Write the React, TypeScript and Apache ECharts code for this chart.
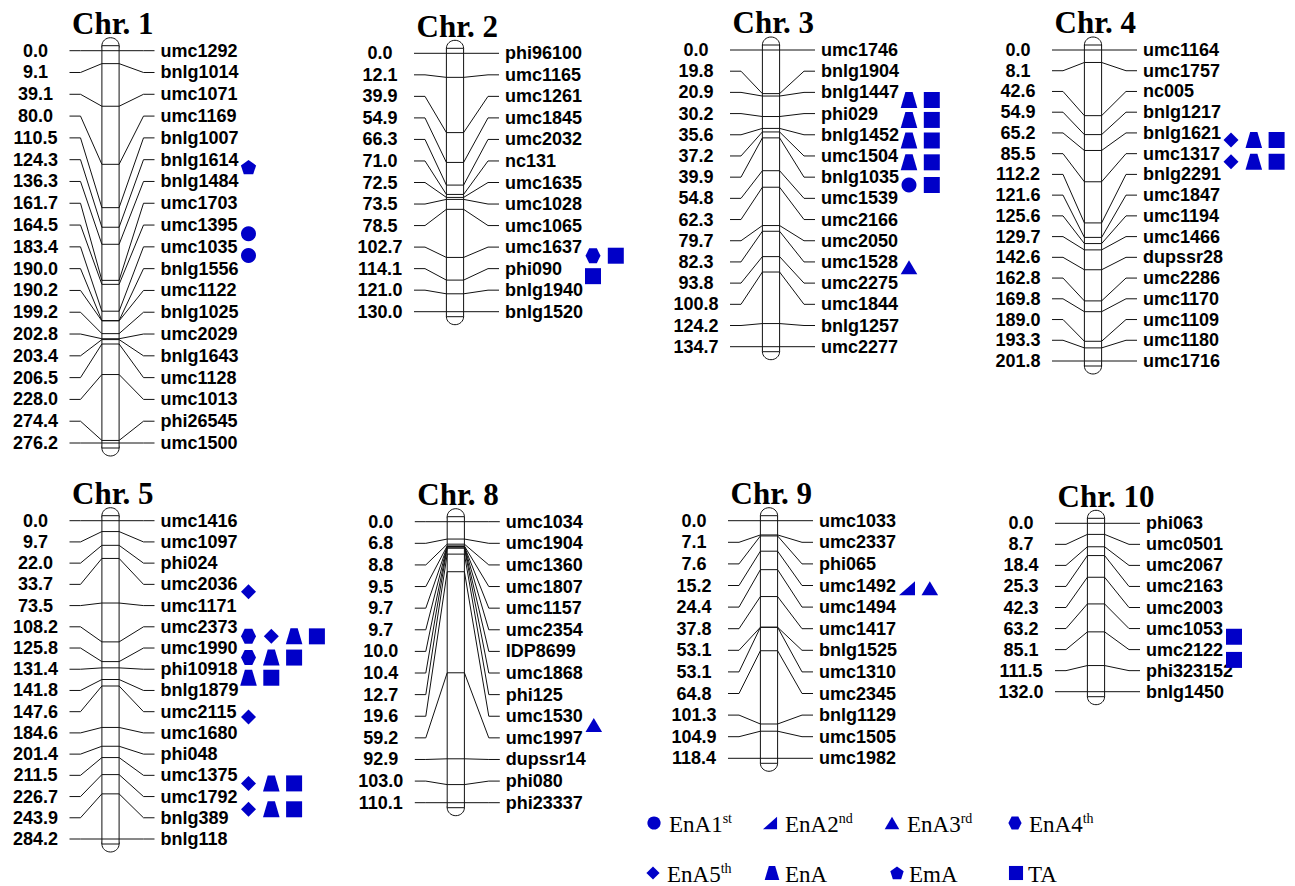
import React, { useEffect, useRef } from "react";
import * as echarts from "echarts";

// ---------------- data ----------------
const chr1Markers = ["umc1292", "bnlg1014", "umc1071", "umc1169", "bnlg1007", "bnlg1614", "bnlg1484", "umc1703", "umc1395", "umc1035", "bnlg1556", "umc1122", "bnlg1025", "umc2029", "bnlg1643", "umc1128", "umc1013", "phi26545", "umc1500"];
const chr1Positions = [0.0, 9.1, 39.1, 80.0, 110.5, 124.3, 136.3, 161.7, 164.5, 183.4, 190.0, 190.2, 199.2, 202.8, 203.4, 206.5, 228.0, 274.4, 276.2];
const chr1QtlRows = [5.35, 8.4, 9.4];
const chr1QtlTraits = [["EmA"], ["EnA1st"], ["EnA1st"]];

const chr2Markers = ["phi96100", "umc1165", "umc1261", "umc1845", "umc2032", "nc131", "umc1635", "umc1028", "umc1065", "umc1637", "phi090", "bnlg1940", "bnlg1520"];
const chr2Positions = [0.0, 12.1, 39.9, 54.9, 66.3, 71.0, 72.5, 73.5, 78.5, 102.7, 114.1, 121.0, 130.0];
const chr2QtlRows = [9.4, 10.35];
const chr2QtlTraits = [["EnA4th", "TA"], ["TA"]];

const chr3Markers = ["umc1746", "bnlg1904", "bnlg1447", "phi029", "bnlg1452", "umc1504", "bnlg1035", "umc1539", "umc2166", "umc2050", "umc1528", "umc2275", "umc1844", "bnlg1257", "umc2277"];
const chr3Positions = [0.0, 19.8, 20.9, 30.2, 35.6, 37.2, 39.9, 54.8, 62.3, 79.7, 82.3, 93.8, 100.8, 124.2, 134.7];
const chr3QtlRows = [2.36, 3.3, 4.27, 5.3, 6.37, 10.25];
const chr3QtlTraits = [["EnA", "TA"], ["EnA", "TA"], ["EnA", "TA"], ["EnA", "TA"], ["EnA1st", "TA"], ["EnA3rd"]];

const chr4Markers = ["umc1164", "umc1757", "nc005", "bnlg1217", "bnlg1621", "umc1317", "bnlg2291", "umc1847", "umc1194", "umc1466", "dupssr28", "umc2286", "umc1170", "umc1109", "umc1180", "umc1716"];
const chr4Positions = [0.0, 8.1, 42.6, 54.9, 65.2, 85.5, 112.2, 121.6, 125.6, 129.7, 142.6, 162.8, 169.8, 189.0, 193.3, 201.8];
const chr4QtlRows = [4.34, 5.39];
const chr4QtlTraits = [["EnA5th", "EnA", "TA"], ["EnA5th", "EnA", "TA"]];

const chr5Markers = ["umc1416", "umc1097", "phi024", "umc2036", "umc1171", "umc2373", "umc1990", "phi10918", "bnlg1879", "umc2115", "umc1680", "phi048", "umc1375", "umc1792", "bnlg389", "bnlg118"];
const chr5Positions = [0.0, 9.7, 22.0, 33.7, 73.5, 108.2, 125.8, 131.4, 141.8, 147.6, 184.6, 201.4, 211.5, 226.7, 243.9, 284.2];
const chr5QtlRows = [3.35, 5.45, 6.45, 7.4, 9.25, 12.38, 13.6];
const chr5QtlTraits = [["EnA5th"], ["EnA4th", "EnA5th", "EnA", "TA"], ["EnA4th", "EnA", "TA"], ["EnA", "TA"], ["EnA5th"], ["EnA5th", "EnA", "TA"], ["EnA5th", "EnA", "TA"]];

const chr8Markers = ["umc1034", "umc1904", "umc1360", "umc1807", "umc1157", "umc2354", "IDP8699", "umc1868", "phi125", "umc1530", "umc1997", "dupssr14", "phi080", "phi23337"];
const chr8Positions = [0.0, 6.8, 8.8, 9.5, 9.7, 9.7, 10.0, 10.4, 12.7, 19.6, 59.2, 92.9, 103.0, 110.1];
const chr8QtlRows = [9.4];
const chr8QtlTraits = [["EnA3rd"]];

const chr9Markers = ["umc1033", "umc2337", "phi065", "umc1492", "umc1494", "umc1417", "bnlg1525", "umc1310", "umc2345", "bnlg1129", "umc1505", "umc1982"];
const chr9Positions = [0.0, 7.1, 7.6, 15.2, 24.4, 37.8, 53.1, 53.1, 64.8, 101.3, 104.9, 118.4];
const chr9QtlRows = [3.13];
const chr9QtlTraits = [["EnA2nd", "EnA3rd"]];

const chr10Markers = ["phi063", "umc0501", "umc2067", "umc2163", "umc2003", "umc1053", "umc2122", "phi323152", "bnlg1450"];
const chr10Positions = [0.0, 8.7, 18.4, 25.3, 42.3, 63.2, 85.1, 111.5, 132.0];
const chr10QtlRows = [5.39, 6.49];
const chr10QtlTraits = [["TA"], ["TA"]];

const chrTitles = ["Chr. 1", "Chr. 2", "Chr. 3", "Chr. 4", "Chr. 5", "Chr. 8", "Chr. 9", "Chr. 10"];

const legendTraits = ["EnA1st", "EnA2nd", "EnA3rd", "EnA4th", "EnA5th", "EnA", "EmA", "TA"];
const legendMain = ["EnA1", "EnA2", "EnA3", "EnA4", "EnA5", "EnA", "EmA", "TA"];
const legendSup = ["st", "nd", "rd", "th", "th", "", "", ""];

// ---------------- layout (style only) ----------------
const panelLayout = [
  { cx: 110.5, top: 50.7, bottom: 443 },
  { cx: 455, top: 53.3, bottom: 311.7 },
  { cx: 771, top: 50, bottom: 346.7 },
  { cx: 1093, top: 50, bottom: 361 },
  { cx: 110.5, top: 520.7, bottom: 839 },
  { cx: 455.8, top: 521.7, bottom: 802.7 },
  { cx: 769, top: 520.7, bottom: 758.3 },
  { cx: 1096, top: 523.3, bottom: 691.7 },
];
const legendLayout = [
  { sx: 654, tx: 669, y: 823 },
  { sx: 770, tx: 785, y: 823 },
  { sx: 892, tx: 907, y: 823 },
  { sx: 1015, tx: 1029, y: 823 },
  { sx: 653, tx: 667, y: 873 },
  { sx: 772, tx: 785, y: 873 },
  { sx: 897, tx: 909, y: 873 },
  { sx: 1016, tx: 1028, y: 873 },
];

const BLUE = "#0000c8";
const LINE = "#111";
const HW = 8.6;
const SANS = "'Liberation Sans', Arial, sans-serif";
const SERIF = "'Liberation Serif', 'Times New Roman', serif";

const chromosomes = [
  { markers: chr1Markers, positions: chr1Positions, qtlRows: chr1QtlRows, qtlTraits: chr1QtlTraits },
  { markers: chr2Markers, positions: chr2Positions, qtlRows: chr2QtlRows, qtlTraits: chr2QtlTraits },
  { markers: chr3Markers, positions: chr3Positions, qtlRows: chr3QtlRows, qtlTraits: chr3QtlTraits },
  { markers: chr4Markers, positions: chr4Positions, qtlRows: chr4QtlRows, qtlTraits: chr4QtlTraits },
  { markers: chr5Markers, positions: chr5Positions, qtlRows: chr5QtlRows, qtlTraits: chr5QtlTraits },
  { markers: chr8Markers, positions: chr8Positions, qtlRows: chr8QtlRows, qtlTraits: chr8QtlTraits },
  { markers: chr9Markers, positions: chr9Positions, qtlRows: chr9QtlRows, qtlTraits: chr9QtlTraits },
  { markers: chr10Markers, positions: chr10Positions, qtlRows: chr10QtlRows, qtlTraits: chr10QtlTraits },
];

function symbolEl(trait: string, x: number, y: number, k = 1): any {
  const s = (v: number) => v * k;
  const style = { fill: BLUE, stroke: null as any };
  switch (trait) {
    case "EnA1st":
      return { type: "circle", shape: { cx: x, cy: y, r: s(7.5) }, style };
    case "EnA2nd":
      return { type: "polygon", shape: { points: [[x - s(8), y + s(7)], [x + s(8), y + s(7)], [x + s(8), y - s(7)]] }, style };
    case "EnA3rd":
      return { type: "polygon", shape: { points: [[x, y - s(7)], [x + s(8.3), y + s(7)], [x - s(8.3), y + s(7)]] }, style };
    case "EnA4th":
      return {
        type: "polygon",
        shape: { points: [[x - s(7.5), y], [x - s(3.8), y - s(7.5)], [x + s(3.8), y - s(7.5)], [x + s(7.5), y], [x + s(3.8), y + s(7.5)], [x - s(3.8), y + s(7.5)]] },
        style,
      };
    case "EnA5th":
      return { type: "polygon", shape: { points: [[x, y - s(7.5)], [x + s(7.5), y], [x, y + s(7.5)], [x - s(7.5), y]] }, style };
    case "EnA":
      return { type: "polygon", shape: { points: [[x - s(3.6), y - s(8)], [x + s(3.6), y - s(8)], [x + s(8.3), y + s(8)], [x - s(8.3), y + s(8)]] }, style };
    case "EmA": {
      const pts: number[][] = [];
      for (let i = 0; i < 5; i++) {
        const a = -Math.PI / 2 + (i * 2 * Math.PI) / 5;
        pts.push([x + s(8) * Math.cos(a), y + s(0.6) + s(8) * Math.sin(a)]);
      }
      return { type: "polygon", shape: { points: pts }, style };
    }
    default:
      return { type: "rect", shape: { x: x - s(8), y: y - s(8), width: s(16), height: s(16) }, style };
  }
}

function buildOption() {
  const grid: any[] = [];
  const xAxis: any[] = [];
  const yAxis: any[] = [];
  const series: any[] = [];

  chromosomes.forEach((chr, k) => {
    const L = panelLayout[k];
    const n = chr.markers.length;
    const maxPos = chr.positions[n - 1];
    grid.push({ left: L.cx - 110, width: 220, top: L.top, height: L.bottom - L.top, containLabel: false });
    xAxis.push({ gridIndex: k, type: "value", min: 0, max: 1, show: false });
    yAxis.push({ gridIndex: k, type: "value", min: 0, max: maxPos, inverse: true, show: false });
    yAxis.push({ gridIndex: k, type: "value", min: 0, max: n - 1, inverse: true, show: false });

    // chromosome body + title
    series.push({
      type: "custom",
      name: chrTitles[k] + " body",
      xAxisIndex: k,
      yAxisIndex: 2 * k,
      z: 1,
      silent: true,
      data: [[0, 0, maxPos]],
      renderItem: (params: any, api: any) => {
        const cs = params.coordSys;
        const cx = cs.x + cs.width / 2;
        const yTop = api.coord([0, api.value(1)])[1];
        const yBot = api.coord([0, api.value(2)])[1];
        return {
          type: "group",
          children: [
            { type: "ellipse", shape: { cx, cy: yTop - 5, rx: HW, ry: 8 }, style: { fill: "#fff", stroke: LINE, lineWidth: 1 } },
            { type: "ellipse", shape: { cx, cy: yBot + 5, rx: HW, ry: 8 }, style: { fill: "#fff", stroke: LINE, lineWidth: 1 } },
            { type: "rect", shape: { x: cx - HW, y: yTop - 5, width: 2 * HW, height: yBot - yTop + 10 }, style: { fill: "#fff", stroke: LINE, lineWidth: 1 } },
            {
              type: "text",
              x: cx - 38.5,
              y: yTop - 27.3,
              style: { text: chrTitles[k], fill: "#000", fontSize: 31, fontWeight: "bold", fontFamily: SERIF, align: "left", verticalAlign: "middle" },
            },
          ],
        };
      },
    });

    // markers: connectors, ticks, labels
    series.push({
      type: "custom",
      name: chrTitles[k] + " markers",
      xAxisIndex: k,
      yAxisIndex: 2 * k,
      z: 2,
      silent: true,
      data: chr.positions.map((p, i) => [0, p, i]),
      renderItem: (params: any, api: any) => {
        const cs = params.coordSys;
        const cx = cs.x + cs.width / 2;
        const pos = api.value(1);
        const i = api.value(2);
        const posY = api.coord([0, pos])[1];
        const rowY = cs.y + (i * cs.height) / (n - 1);
        const ls = { stroke: LINE, lineWidth: 1, fill: null as any };
        return {
          type: "group",
          children: [
            { type: "polyline", shape: { points: [[cx - 41, rowY], [cx - 30, rowY], [cx - HW, posY]] }, style: ls },
            { type: "line", shape: { x1: cx - HW, y1: posY, x2: cx + HW, y2: posY }, style: ls },
            { type: "polyline", shape: { points: [[cx + HW, posY], [cx + 33, rowY], [cx + 44, rowY]] }, style: ls },
            {
              type: "text",
              x: cx - 75,
              y: rowY,
              style: { text: chr.positions[i].toFixed(1), fill: "#000", fontSize: 18, fontWeight: "bold", fontFamily: SANS, align: "center", verticalAlign: "middle" },
            },
            {
              type: "text",
              x: cx + 50,
              y: rowY,
              style: { text: chr.markers[i], fill: "#000", fontSize: 18, fontWeight: "bold", fontFamily: SANS, align: "left", verticalAlign: "middle" },
            },
          ],
        };
      },
    });

    // QTL symbols
    const qtlData: number[][] = [];
    chr.qtlRows.forEach((r, ri) => {
      chr.qtlTraits[ri].forEach((t, j) => {
        qtlData.push([0, r, j, legendTraits.indexOf(t)]);
      });
    });
    series.push({
      type: "custom",
      name: chrTitles[k] + " QTL",
      xAxisIndex: k,
      yAxisIndex: 2 * k + 1,
      z: 3,
      silent: true,
      data: qtlData,
      renderItem: (params: any, api: any) => {
        const cs = params.coordSys;
        const cx = cs.x + cs.width / 2;
        const y = api.coord([0, api.value(1)])[1];
        const slot = api.value(2);
        const trait = legendTraits[api.value(3)];
        const x = cx + 138 + slot * 22.8;
        return symbolEl(trait, x, y, 1);
      },
    });
  });

  // legend (key)
  const graphic: any[] = [];
  legendTraits.forEach((t, i) => {
    const L = legendLayout[i];
    graphic.push(symbolEl(t, L.sx, L.y, 0.88));
    const sup = legendSup[i];
    graphic.push({
      type: "text",
      x: L.tx,
      y: L.y + 1,
      style: {
        text: sup ? `{m|${legendMain[i]}}{s|${sup}}` : `{m|${legendMain[i]}}`,
        fill: "#000",
        align: "left",
        verticalAlign: "middle",
        rich: {
          m: { fontSize: 23, fontFamily: SERIF, fill: "#000", lineHeight: 26 },
          s: { fontSize: 14, fontFamily: SERIF, fill: "#000", verticalAlign: "top", lineHeight: 14 },
        },
      },
    });
  });

  return {
    animation: false,
    backgroundColor: "#fff",
    grid,
    xAxis,
    yAxis,
    series,
    graphic,
  };
}

export default function App() {
  const ref = useRef<HTMLDivElement>(null);
  useEffect(() => {
    if (!ref.current) return;
    const chart = echarts.init(ref.current, null, { renderer: "svg" });
    chart.setOption(buildOption() as any);
    return () => chart.dispose();
  }, []);
  return (
    <div
      ref={ref}
      style={{ position: "fixed", left: 0, top: 0, width: 1295, height: 886, background: "#fff" }}
    />
  );
}
